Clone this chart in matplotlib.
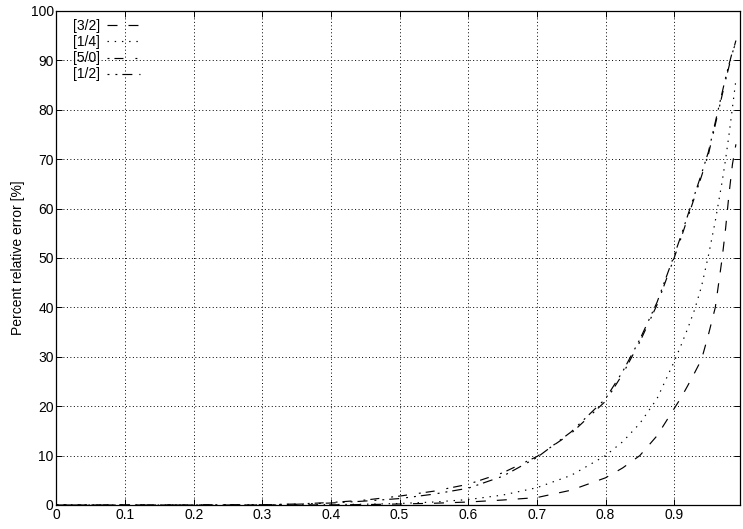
import matplotlib
matplotlib.use("Agg")
import matplotlib.pyplot as plt

plt.rcParams['font.family'] = ['Liberation Sans', 'DejaVu Sans']
plt.rcParams['lines.scale_dashes'] = False

x = [0.0, 0.1, 0.2, 0.3, 0.35, 0.4, 0.45, 0.5, 0.55, 0.6, 0.65, 0.7, 0.75,
     0.8, 0.825, 0.85, 0.875, 0.9, 0.91, 0.92, 0.93, 0.94, 0.95, 0.96, 0.97,
     0.975, 0.98, 0.985, 0.99]

err_32 = [0, 0, 0, 0, 0, 0.03, 0.08, 0.2, 0.35, 0.6, 1.0, 1.5, 3.0,
          5.5, 7.5, 10, 14, 19.5, 21.7, 24.2, 26.8, 29.5, 34.5, 40, 50,
          56, 63, 69, 73]
err_14 = [0, 0, 0, 0, 0.02, 0.08, 0.15, 0.3, 0.6, 1.1, 2.0, 3.5, 6.0,
          10, 12.8, 16.5, 21.5, 29, 32.3, 35.8, 39.6, 44.3, 50.5, 57.5, 65.5,
          70, 75, 80.5, 86]
err_50 = [0, 0, 0, 0.05, 0.2, 0.5, 1.0, 1.8, 2.8, 4.2, 6.5, 9.8, 14.5,
          21, 26.5, 33, 40.5, 50, 54, 58.2, 62.4, 66.6, 71, 77, 83,
          86, 88.8, 91.5, 94]
err_12 = [0, 0, 0, 0.03, 0.15, 0.4, 0.8, 1.3, 2.2, 3.4, 5.8, 9.6, 14.8,
          21.5, 27, 33.5, 41, 50.5, 54.5, 58.7, 62.9, 67.1, 71.5, 77.5, 83.5,
          86.5, 89.2, 91.8, 93.5]

labels = ['[3/2]', '[1/4]', '[5/0]', '[1/2]']
xticks = [0, 0.1, 0.2, 0.3, 0.4, 0.5, 0.6, 0.7, 0.8, 0.9]
xticklabels = ['0', '0.1', '0.2', '0.3', '0.4', '0.5', '0.6', '0.7', '0.8', '0.9']
yticks = [0, 10, 20, 30, 40, 50, 60, 70, 80, 90, 100]

fig = plt.figure(figsize=(7.43, 5.29), dpi=100)
ax = fig.add_axes([0.076, 0.0454, 0.920, 0.934])

lw = 0.85
styles = [
    (0, (7.2, 7.9)),
    (0, (1.0, 4.2)),
    (0, (1.4, 3.6, 6.5, 8.6)),
    (0, (1.4, 4.3, 1.4, 3.6, 7.2, 5.0)),
]
series = [err_32, err_14, err_50, err_12]
for ys, lab, ls in zip(series, labels, styles):
    ax.plot(x, ys, color='black', linewidth=lw, linestyle=ls, label=lab)

ax.set_xlim(0, 0.996)
ax.set_ylim(0, 100)
ax.set_xticks(xticks)
ax.set_xticklabels(xticklabels)
ax.set_yticks(yticks)
ax.grid(True, color='black', linestyle=(0, (0.7, 1.8)), linewidth=0.7)
ax.tick_params(direction='in', top=True, right=True, length=4, width=0.7,
               labelsize=10, pad=2)
for sp in ax.spines.values():
    sp.set_linewidth(0.9)
ax.set_ylabel('Percent relative error [%]', fontsize=10, labelpad=4)

leg = ax.legend(loc='upper left', frameon=False, fontsize=10,
                handlelength=2.4, handletextpad=0.5, labelspacing=0.15,
                borderaxespad=0.2, markerfirst=False,
                bbox_to_anchor=(0.012, 1.0))

fig.savefig('out.png', dpi=100)
